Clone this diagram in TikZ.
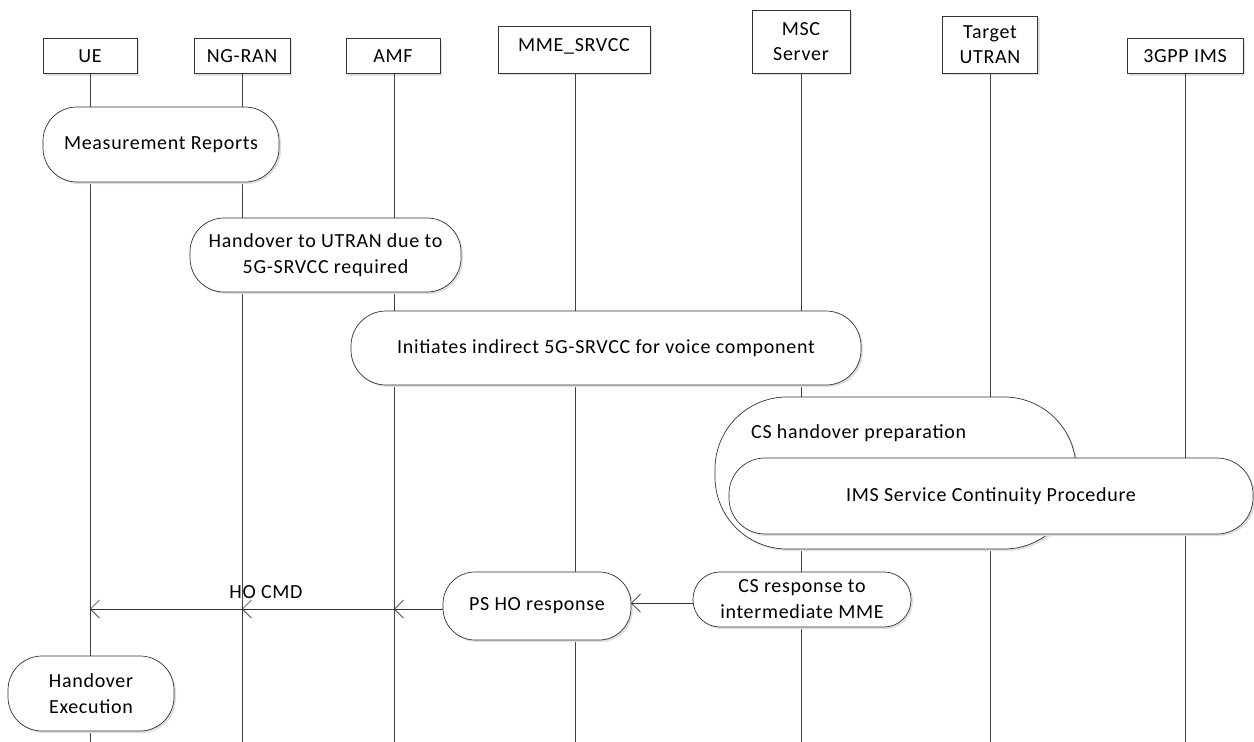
\documentclass[tikz,border=0pt]{standalone}
\usepackage{fontspec}
\setmainfont{Carlito}[LetterSpace=3.5]
\usetikzlibrary{arrows.meta,shadows}
\begin{document}
\begin{tikzpicture}[x=1pt,y=-1pt,
  shad/.style={drop shadow={shadow xshift=2pt,shadow yshift=-2pt,fill=black!12,opacity=1}},
  hdr/.style={draw=black!80, fill=white, line width=0.7pt, align=center, inner sep=0pt, font=\fontsize{20}{25}\selectfont, shad},
  proc/.style={draw=black!80, fill=white, line width=0.7pt, align=center, inner sep=0pt, font=\fontsize{20}{26}\selectfont, shad},
  life/.style={draw=black!75, line width=0.7pt},
  msg/.style={draw=black!80, line width=0.7pt, -{Straight Barb[length=9pt,width=18pt]}},
  lbl/.style={font=\fontsize{20}{25}\selectfont, inner sep=0pt}]
\useasboundingbox (0,0) rectangle (1254,742);
% headers
\node[hdr, minimum width=94pt, minimum height=35pt] (ue) at (90,56) {UE};
\node[hdr, minimum width=96pt, minimum height=35pt] (ran) at (242,56) {NG-RAN};
\node[hdr, minimum width=94pt, minimum height=35pt] (amf) at (393,56) {AMF};
\node[hdr, minimum width=152pt, minimum height=47pt, text depth=8pt] (mme) at (574,49.5) {MME\_SRVCC};
\node[hdr, minimum width=98pt, minimum height=63pt] (msc) at (801,41.5) {MSC\\Server};
\node[hdr, minimum width=95pt, minimum height=57pt] (tu) at (990,44.5) {Target\\UTRAN};
\node[hdr, minimum width=116pt, minimum height=35pt] (ims) at (1185,56) {3GPP IMS};
% lifeline ends
\coordinate (ueE) at (90,742);
\coordinate (ranE) at (242,742);
\coordinate (amfE) at (394,742);
\coordinate (mmeE) at (575,742);
\coordinate (mscE) at (801,742);
\coordinate (tuE) at (990,742);
\coordinate (imsE) at (1185,742);
\draw[life] (ue.south) -- (ueE);
\draw[life] (ran.south) -- (ranE);
\draw[life] ([xshift=1pt]amf.south) -- (amfE);
\draw[life] ([xshift=1pt]mme.south) -- (mmeE);
\draw[life] (msc.south) -- (mscE);
\draw[life] (tu.south) -- (tuE);
\draw[life] (ims.south) -- (imsE);
% procedure boxes
\node[proc, rounded corners=34pt, minimum width=236pt, minimum height=75pt] (mr) at (161,144.5) {Measurement Reports};
\node[proc, rounded corners=34pt, minimum width=271pt, minimum height=74pt] (ho) at (325.5,255) {Handover to UTRAN due to\\5G-SRVCC required};
\node[proc, rounded corners=35pt, minimum width=510pt, minimum height=74pt] (ini) at (606,348) {Initiates indirect 5G-SRVCC for voice component};
\node[proc, rounded corners=72pt, minimum width=361pt, minimum height=152pt] (csp) at (895.5,473) {};
\node[lbl, anchor=west] (csptxt) at (751,433) {CS handover preparation};
\node[proc, rounded corners=36pt, minimum width=524pt, minimum height=76pt] (imsp) at (991,496) {IMS Service Continuity Procedure};
\node[proc, rounded corners=27pt, minimum width=218pt, minimum height=55pt] (csr) at (802,599.5) {CS response to\\intermediate MME};
\node[proc, rounded corners=32pt, minimum width=188pt, minimum height=68pt] (ps) at (537,606) {PS HO response};
\node[proc, rounded corners=34pt, minimum width=166pt, minimum height=75pt] (he) at (91,693.5) {Handover\\Execution};
% messages
\coordinate (csrW) at (693,603);
\coordinate (psE) at (631,603);
\draw[msg] (csrW) -- (psE);
\coordinate (psW) at (443,609);
\coordinate (amfM) at (394,609);
\coordinate (ranM) at (242,609);
\coordinate (ueM) at (90,609);
\draw[msg] (psW) -- (amfM);
\draw[msg] (amfM) -- (ranM);
\draw[msg] (ranM) -- (ueM);
\node[lbl] (hocmd) at (266,592) {HO CMD};
\end{tikzpicture}
\end{document}
